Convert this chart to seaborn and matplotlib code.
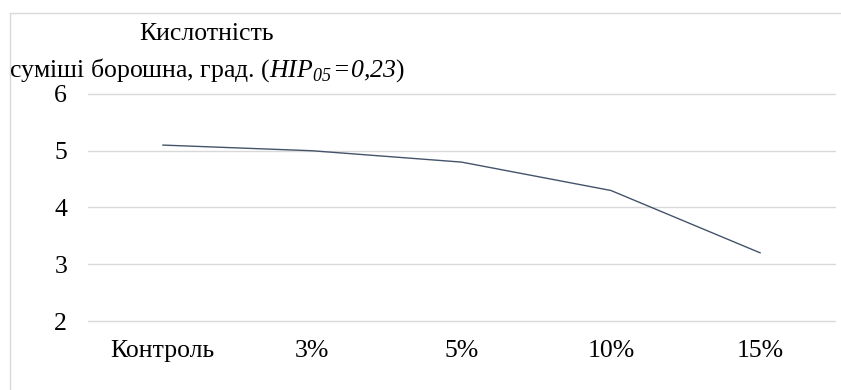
import matplotlib
matplotlib.use("Agg")
import matplotlib.pyplot as plt
from matplotlib.lines import Line2D
import seaborn as sns
import pandas as pd

categories = ["Контроль", "3%", "5%", "10%", "15%"]
acidity = [5.1, 5.0, 4.8, 4.3, 3.2]
y_ticks = [2, 3, 4, 5, 6]

df = pd.DataFrame({"variant": categories, "acidity": acidity})

sns.set_theme(style="white")
plt.rcParams["font.family"] = ["Liberation Serif", "DejaVu Serif"]
plt.rcParams["mathtext.fontset"] = "custom"
plt.rcParams["mathtext.rm"] = "Liberation Serif"
# italic face used for the whole LSD expression, digits included
plt.rcParams["mathtext.sf"] = "Liberation Serif:italic"

W, H = 841, 390
fig = plt.figure(figsize=(W / 100, H / 100), dpi=100)
ax = fig.add_axes([88 / W, (H - 321) / H, (835 - 88) / W, (321 - 94) / H])

sns.lineplot(data=df, x="variant", y="acidity", ax=ax, color="#44546A",
             linewidth=1.0, sort=False)

ax.set_xlim(-0.5, len(categories) - 0.5)
ax.set_ylim(2, 6)
ax.set_yticks(y_ticks)
ax.set_yticklabels([str(v) for v in y_ticks])
ax.set_xlabel("")
ax.set_ylabel("")
ax.grid(axis="y", color="#D9D9D9", linewidth=1.0)
ax.grid(axis="x", visible=False)
ax.set_axisbelow(True)
for gl in ax.get_ygridlines():
    gl.set_clip_on(False)
for s in ax.spines.values():
    s.set_visible(False)
ax.tick_params(axis="both", length=0, labelsize=18.5, colors="#000000")
ax.tick_params(axis="y", pad=15)
ax.tick_params(axis="x", pad=14)

# chart title in two lines
fig.text(207 / W, 1 - 34 / H, "Кислотність", ha="center", va="center",
         fontsize=18.5, color="#000000")
fig.text(207 / W, 1 - 70 / H,
         r"суміші борошна, град. ($\mathsf{HIP}_{\mathsf{05}}\!\mathsf{=}\!\mathsf{0{,}23}$)",
         ha="center", va="center", fontsize=18.5, color="#000000")

# thin outer frame (top and left edges)
fig.add_artist(Line2D([9.5 / W, 1], [1 - 12.5 / H, 1 - 12.5 / H],
                      transform=fig.transFigure, color="#D9D9D9", linewidth=1))
fig.add_artist(Line2D([9.5 / W, 9.5 / W], [0, 1 - 12.5 / H],
                      transform=fig.transFigure, color="#D9D9D9", linewidth=1))

fig.savefig("out.png", dpi=100)
